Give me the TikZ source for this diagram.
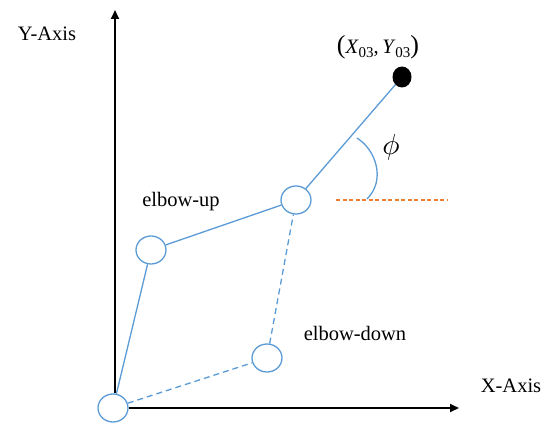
\documentclass[tikz,border=0pt]{standalone}
\usepackage{fontspec}
\setmainfont{Liberation Serif}
\usetikzlibrary{arrows.meta,shapes.geometric}
\definecolor{linkblue}{RGB}{91,155,213}
\definecolor{dashorange}{RGB}{237,125,49}
\begin{document}
\begin{tikzpicture}[x=1pt,y=-1pt,
  joint/.style={ellipse,draw=linkblue,line width=1.3pt,minimum width=30pt,minimum height=28pt,inner sep=0pt,fill=white},
  link/.style={draw=linkblue,line width=1.3pt},
  dlink/.style={draw=linkblue,line width=1.3pt,dash pattern=on 6pt off 4pt},
  axis/.style={draw=black,line width=2pt,-{Triangle[length=9pt,width=8pt]}},
  lbl/.style={font=\fontsize{20.5}{24}\selectfont,inner sep=0pt}]
\useasboundingbox (0,0) rectangle (548,425);
% joints
\node[joint] (base) at (113,408) {};
\node[joint] (eup) at (151,250) {};
\node[joint] (wrist) at (296,200) {};
\node[joint] (edown) at (267,358) {};
\node[ellipse,fill=black,minimum width=19pt,minimum height=21pt,inner sep=0pt] (ee) at (402,77) {};
% axes
\coordinate (ytip) at (115,10);
\coordinate (xtip) at (459,408);
\draw[axis] (base.north -| ytip) -- (ytip);
\draw[axis] (base.east) -- (xtip);
% links
\draw[link] (base) -- (eup);
\draw[link] (eup) -- (wrist);
\draw[link] (wrist) -- (ee);
\draw[dlink] (base) -- (edown);
\draw[dlink] (edown) -- (wrist);
% orange reference line
\coordinate (oA) at (336,200);
\coordinate (oB) at (447,200);
\draw[dashorange,line width=1.1pt,dash pattern=on 4pt off 2.5pt] (oA) -- (oB);
% angle arc
\coordinate (arcA) at (357,138);
\coordinate (arcB) at (367,199);
\draw[link] (arcA) .. controls (376,150) and (386,180) .. (arcB);
% labels
\node[lbl] (ylab) at (47,34) {Y-Axis};
\node[lbl] (xlab) at (511,386) {X-Axis};
\node[lbl] (uplab) at (181,202) {elbow-up};
\node[lbl] (downlab) at (355,333) {elbow-down};
\node[inner sep=0pt] (phi) at (391,147) {\scalebox{2.9}{$\phi$}};
\node[lbl] (pt) at (378,47) {\fontsize{26}{26}\selectfont(\fontsize{20.5}{24}\selectfont\textit{X}\raisebox{-4pt}{\fontsize{15}{15}\selectfont 03},\,\textit{Y}\raisebox{-4pt}{\fontsize{15}{15}\selectfont 03}\fontsize{26}{26}\selectfont)};
\end{tikzpicture}
\end{document}
